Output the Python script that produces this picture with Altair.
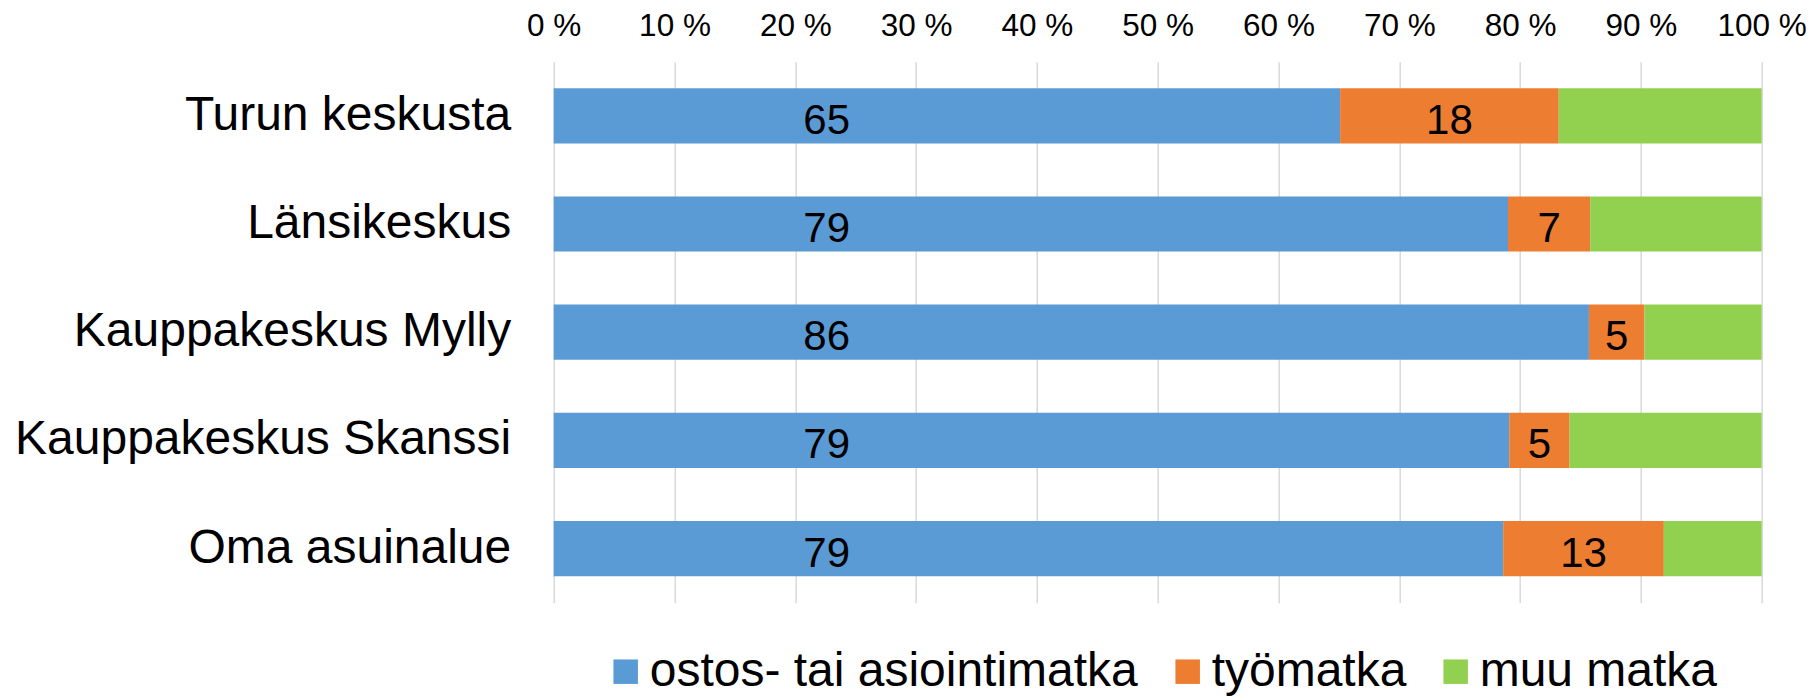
import altair as alt
import pandas as pd

CATEGORIES = ["Turun keskusta", "Länsikeskus", "Kauppakeskus Mylly",
              "Kauppakeskus Skanssi", "Oma asuinalue"]
SERIES = ["ostos- tai asiointimatka", "työmatka", "muu matka"]
OSTOS = [65.1, 79.0, 85.7, 79.1, 78.6]
TYO = [18.1, 6.8, 4.6, 5.0, 13.3]
MUU = [16.8, 14.2, 9.7, 15.9, 8.1]
COLORS = ["#5B9BD5", "#ED7D31", "#92D050"]
X_TICKS = [0, 10, 20, 30, 40, 50, 60, 70, 80, 90, 100]
BLUE_LABEL_AT = 22.6  # where the first series' labels sit (value units)

FONT = "Liberation Sans"

rows = []
for ci, cat in enumerate(CATEGORIES):
    start = 0.0
    for si, (name, vals) in enumerate(zip(SERIES, [OSTOS, TYO, MUU])):
        v = vals[ci]
        end = start + v
        if si == 0:
            lp = BLUE_LABEL_AT
        else:
            lp = (start + end) / 2
        rows.append({"cat": cat, "series": name, "order": si, "value": v,
                     "start": start, "end": end, "labelpos": lp,
                     "label": str(int(round(v)))})
        start = end
df = pd.DataFrame(rows)

y_enc = alt.Y("cat:N", sort=CATEGORIES,
              scale=alt.Scale(paddingInner=0.49, paddingOuter=0.245),
              axis=alt.Axis(title=None, labelFontSize=48, labelPadding=43,
                            ticks=False, domain=False, labelColor="#000000",
                            labelFont=FONT, labelLimit=0))

x_scale = alt.Scale(domain=[0, 100], nice=False, zero=True)

bars = alt.Chart(df).mark_bar().encode(
    y=y_enc,
    x=alt.X("start:Q", scale=x_scale,
            axis=alt.Axis(orient="top", values=X_TICKS,
                          labelExpr="datum.value + ' %'", title=None,
                          labelFontSize=31.5, labelFont=FONT,
                          labelColor="#000000", grid=True,
                          gridColor="#D9D9D9", gridWidth=1.5,
                          labelFlush=False, labelOverlap=False,
                          ticks=False, domain=False, labelPadding=19)),
    x2="end:Q",
    color=alt.Color("series:N", sort=SERIES,
                    scale=alt.Scale(domain=SERIES, range=COLORS),
                    legend=alt.Legend(title=None, orient="none",
                                      direction="horizontal",
                                      legendX=48, legendY=586,
                                      symbolType="square", symbolSize=600,
                                      symbolStrokeWidth=0,
                                      labelFontSize=48, labelFont=FONT,
                                      labelColor="#000000", labelLimit=0,
                                      labelOffset=0, columnPadding=25)),
    order="order:Q",
)

labels = alt.Chart(df).transform_filter(
    alt.datum.series != SERIES[2]
).mark_text(fontSize=42, font=FONT, color="#000000", baseline="middle",
            align="center", dy=5).encode(
    y=alt.Y("cat:N", sort=CATEGORIES),
    x=alt.X("labelpos:Q", scale=x_scale),
    text="label:N",
)

chart = alt.layer(bars, labels).properties(
    width=1208, height=541,
    padding={"left": 545.7, "top": 53.7, "right": 47, "bottom": 97},
    autosize=alt.AutoSizeParams(type="none"),
).configure_view(stroke=None)

chart.save("out.html", embed_options={"renderer": "svg", "actions": False})
